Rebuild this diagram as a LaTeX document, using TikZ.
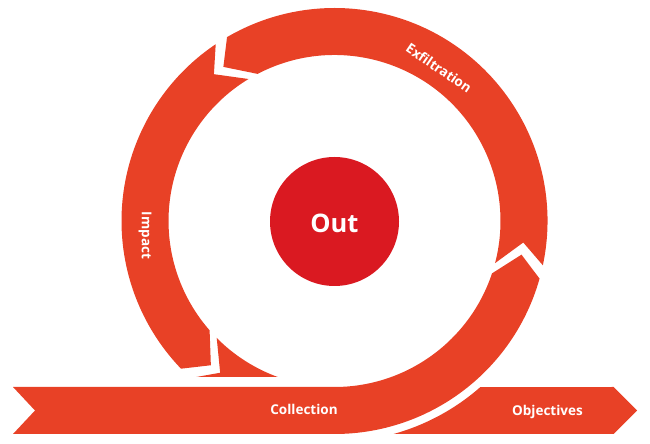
\documentclass[tikz,border=0pt]{standalone}
\usepackage{fontspec}
\setmainfont{Open Sans}
\usetikzlibrary{calc}
\definecolor{ringred}{RGB}{232,65,38}
\definecolor{corered}{RGB}{218,25,33}
\begin{document}
\begin{tikzpicture}[x=1pt,y=1pt,
  seg/.style={fill=ringred,draw=none},
  lbl/.style={text=white,font=\fontsize{13.5}{16}\selectfont\bfseries,inner sep=0pt}]
\useasboundingbox (0,0) rectangle (650,444);
\coordinate (C) at (334.5,223);
\def\Ro{213}\def\Ri{166}\def\Rm{190}
% Collection band + right ring part
\fill[seg] (13,10) -- (35,33.5) -- (13,57) -- (334.5,57)
  arc[start angle=-90,end angle=-18.4,radius=\Ri]
  -- ($(C)+(-10.2:\Rm)$) -- ($(C)+(-15.7:\Ro)$)
  arc[start angle=-15.7,end angle=-90,radius=\Ro] -- cycle;
% Exfiltration
\fill[seg] ($(C)+(-14.7:\Ri)$) -- ($(C)+(-6.5:\Rm)$) -- ($(C)+(-12:\Ro)$)
  arc[start angle=-12,end angle=120.3,radius=\Ro]
  -- ($(C)+(125.8:\Rm)$) -- ($(C)+(117.6:\Ri)$)
  arc[start angle=117.6,end angle=-14.7,radius=\Ri] -- cycle;
% Impact
\fill[seg] ($(C)+(121.2:\Ri)$) -- ($(C)+(129.4:\Rm)$) -- ($(C)+(123.9:\Ro)$)
  arc[start angle=123.9,end angle=223.9,radius=\Ro]
  -- ($(C)+(229.4:\Rm)$) -- ($(C)+(221.2:\Ri)$)
  arc[start angle=221.2,end angle=121.2,radius=\Ri] -- cycle;
% small wedge above the band
\begin{scope}
\clip (0,67) rectangle (650,444);
\fill[seg] ($(C)+(224.8:\Ri)$) -- ($(C)+(233:\Rm)$) -- ($(C)+(227.5:\Ro)$)
  arc[start angle=227.5,end angle=265,radius=\Ro]
  -- ($(C)+(265:\Ri)$)
  arc[start angle=265,end angle=224.8,radius=\Ri] -- cycle;
\end{scope}
% Objectives band
\fill[seg] (393.56,10) arc[start angle=-74.5,end angle=-48.7,radius=221]
  -- (613.5,57) -- (637,33.5) -- (613.5,10) -- cycle;
% centre
\node[circle,fill=corered,minimum size=129pt,inner sep=0pt] (core) at (334.5,222.5) {};
\node[text=white,font=\fontsize{25.5}{30}\selectfont\bfseries,inner sep=0pt] (out) at (334.5,220.5) {Out};
% labels
\node[lbl,anchor=base] (collection) at (304,29.7) {Collection};
\node[lbl,anchor=base] (objectives) at (547.5,28.5) {Objectives};
\node[lbl,rotate=-90] (impact) at (145,208.5) {Impact};
\node[lbl,rotate=-34.3] (exfil) at (439,376) {Exfiltration};
\end{tikzpicture}
\end{document}
